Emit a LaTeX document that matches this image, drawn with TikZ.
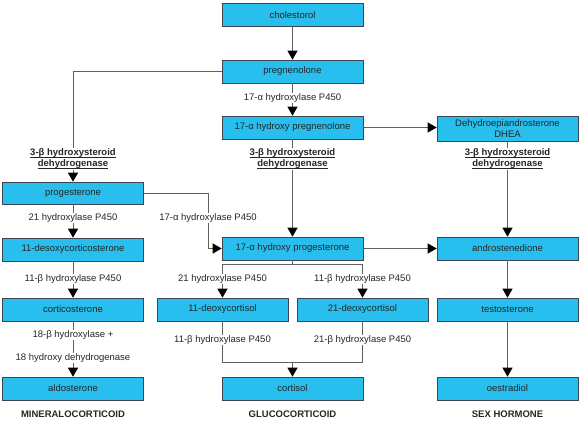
\documentclass[tikz,border=0pt]{standalone}
\usepackage{fontspec}
\setmainfont{Liberation Sans}
\usetikzlibrary{arrows.meta}
\newcommand\myul[1]{\setbox0\hbox{#1}\rlap{\rule[-1.8pt]{\wd0}{0.7pt}}\box0}
\definecolor{boxcyan}{RGB}{40,190,238}
\definecolor{boxedge}{RGB}{60,70,80}
\definecolor{linegray}{RGB}{95,95,95}
\begin{document}
\begin{tikzpicture}[x=1pt,y=-1pt,
  font=\fontsize{9.5}{11}\selectfont,
  cbox/.style={draw=boxedge,line width=0.6pt,fill=boxcyan,minimum width=141pt,minimum height=23pt,inner sep=0pt,text=black!85,align=center},
  nbox/.style={cbox,minimum width=131pt},
  enz/.style={fill=white,inner sep=1pt,text=black!85},
  bl/.style={fill=white,inner sep=1pt,align=center,font=\fontsize{9.5}{11}\selectfont\bfseries,text=black!85},
  grp/.style={inner sep=0pt,font=\fontsize{9.5}{11}\selectfont\bfseries,text=black!85},
  con/.style={draw=linegray,line width=0.8pt},
  arr/.style={con,-{Triangle[width=10pt,length=9pt,color=black]}}
]
\useasboundingbox (0,0) rectangle (580,422);
% boxes
\node[cbox] (chol) at (292.5,15) {cholestorol};
\node[cbox] (preg) at (292.5,71.5) {pregnenolone};
\node[cbox] (ohpreg) at (292.5,127.5) {17-α hydroxy pregnenolone};
\node[cbox,minimum height=25pt] (dhea) at (507.5,128.5) {Dehydroepiandrosterone\\DHEA};
\node[cbox,minimum height=22pt] (prog) at (73,193) {progesterone};
\node[cbox] (doc) at (73,249.5) {11-desoxycorticosterone};
\node[cbox] (cort) at (73,309.5) {corticosterone};
\node[cbox] (ald) at (73,388.5) {aldosterone};
\node[cbox] (ohp) at (292.5,248.5) {17-α hydroxy progesterone};
\node[cbox] (andro) at (507.5,248.5) {androstenedione};
\node[nbox] (d11) at (222.5,309.5) {11-deoxycortisol};
\node[nbox] (d21) at (362.5,309.5) {21-deoxycortisol};
\node[cbox] (testo) at (507.5,309.5) {testosterone};
\node[cbox] (cortisol) at (292.5,388.5) {cortisol};
\node[cbox] (oest) at (507.5,388.5) {oestradiol};
% helper coordinates
\coordinate (k1) at (208,248.5);
\coordinate (br) at (292.5,264);
\coordinate (mj) at (292.5,362);
% connectors
\draw[arr] (chol) -- (preg);
\draw[arr] (preg.west) -| (prog.north);
\draw[arr] (preg) -- (ohpreg);
\draw[arr] (ohpreg.east) -- (ohpreg.east-|dhea.west);
\draw[arr] (ohpreg) -- (ohp);
\draw[arr] (dhea) -- (andro);
\draw[arr] (prog.east) -| (k1) -- (ohp.west);
\draw[arr] (prog) -- (doc);
\draw[arr] (doc) -- (cort);
\draw[arr] (cort) -- (ald);
\draw[arr] (ohp) -- (andro);
\draw[con] (ohp.south) -- (br);
\draw[con] (d11.north|-br) -- (d21.north|-br);
\draw[arr] (d11.north|-br) -- (d11.north);
\draw[arr] (d21.north|-br) -- (d21.north);
\draw[con] (d11.south) -- (d11.south|-mj) -- (d21.south|-mj) -- (d21.south);
\draw[arr] (mj) -- (cortisol.north);
\draw[arr] (andro) -- (testo);
\draw[arr] (testo) -- (oest);
% enzyme labels
\node[enz] (e1) at (292.5,98) {17-α hydroxylase P450};
\node[bl] (b1) at (73,159) {\myul{3-β hydroxysteroid}\\\myul{dehydrogenase}};
\node[bl] (b2) at (292.5,159) {\myul{3-β hydroxysteroid}\\\myul{dehydrogenase}};
\node[bl] (b3) at (507.5,159) {\myul{3-β hydroxysteroid}\\\myul{dehydrogenase}};
\node[enz] (e2) at (73,218) {21 hydroxylase P450};
\node[enz] (e3) at (208,218) {17-α hydroxylase P450};
\node[enz] (e4) at (73,279) {11-β hydroxylase P450};
\node[enz] (e5) at (73,335) {18-β hydroxylase +};
\node[enz] (e6) at (73,358) {18 hydroxy dehydrogenase};
\node[enz] (e7) at (222.5,279) {21 hydroxylase P450};
\node[enz] (e8) at (362.5,279) {11-β hydroxylase P450};
\node[enz] (e9) at (222.5,340) {11-β hydroxylase P450};
\node[enz] (e10) at (362.5,340) {21-β hydroxylase P450};
% group labels
\node[grp] (g1) at (73,414) {MINERALOCORTICOID};
\node[grp] (g2) at (292.5,414) {GLUCOCORTICOID};
\node[grp] (g3) at (507.5,414) {SEX HORMONE};
\end{tikzpicture}
\end{document}
